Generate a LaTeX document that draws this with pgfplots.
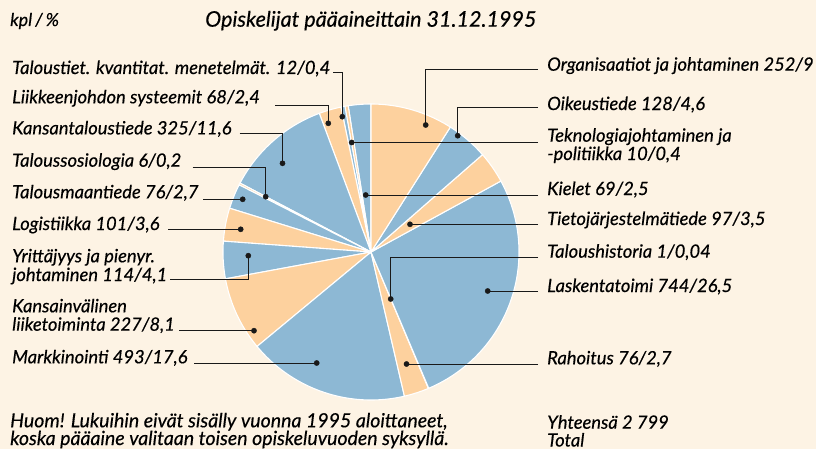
\documentclass[border=0pt]{standalone}
\usepackage{fontspec}
\setmainfont{Lato}[ItalicFeatures={FakeBold=0.4}]
\usepackage{pgfplots}
\pgfplotsset{compat=1.18}
\definecolor{bg}{RGB}{253,243,228}
\definecolor{pblue}{RGB}{141,184,212}
\definecolor{porange}{RGB}{253,209,158}
\definecolor{ldc}{RGB}{25,25,25}
\newcommand{\lab}{\fontsize{18.4}{20}\selectfont\itshape}
% slice: start count, end count (cumulative, counter-clockwise from 12 o'clock), colour; total 2799
\newcommand{\slice}[3]{\addplot[fill=#3, draw=white, line width=1.1bp, domain=90+360*#1/2799:90+360*#2/2799, samples=60] ({371+148*cos(x)},{252-148*sin(x)}) -- (371,252) -- cycle;}
\newcommand{\ldr}[2]{\addplot[ldc, line width=1bp] coordinates {#1};\addplot[ldc, only marks, mark=*, mark size=2.6bp] coordinates {#2};}
\newcommand{\txt}[2]{\node[anchor=base west, inner sep=0pt, font=\lab] at (#1) {#2};}
\begin{document}
\begin{tikzpicture}
\begin{axis}[at={(0,0)}, anchor=south west, width=816bp, height=449bp, scale only axis,
  xmin=0, xmax=816, ymin=0, ymax=449, y dir=reverse, hide axis, clip=false]
\fill[bg] (0,0) rectangle (816,449);
% counts: Kielet 69, Teknologia 10, Taloustiet 12, Liikkeenjohdon 68, Kansantalous 325,
% Taloussosiologia 6, Talousmaantiede 76, Logistiikka 101, Yrittajyys 114, Kansainvalinen 227,
% Markkinointi 493, Rahoitus 76, Taloushistoria 1, Laskentatoimi 744, Tietojarj 97,
% Oikeustiede 128, Organisaatiot 252
\slice{0}{69}{pblue}
\slice{69}{79}{porange}
\slice{79}{91}{pblue}
\slice{91}{159}{porange}
\slice{159}{484}{pblue}
\slice{484}{490}{porange}
\slice{490}{566}{pblue}
\slice{566}{667}{porange}
\slice{667}{781}{pblue}
\slice{781}{1008}{porange}
\slice{1008}{1501}{pblue}
\slice{1501}{1577}{porange}
\slice{1577}{1578}{pblue}
\slice{1578}{2322}{pblue}
\slice{2322}{2419}{porange}
\slice{2419}{2547}{pblue}
\slice{2547}{2799}{porange}
% leaders right
\ldr{(538,69.3) (425.7,69.3) (425.7,125)}{(425.7,125)}
\ldr{(538,107.7) (457.7,107.7) (457.7,135.7)}{(457.7,135.7)}
\ldr{(538,142.5) (351.7,142.5)}{(351.7,142.5)}
\ldr{(538,195) (365.7,195)}{(365.7,195)}
\ldr{(538,224.3) (410,224.3)}{(410,224.3)}
\ldr{(538,257.5) (390.7,257.5) (390.7,299)}{(390.7,299)}
\ldr{(538,291) (487.7,291)}{(487.7,291)}
\ldr{(538,364) (406.5,364)}{(406.5,364)}
% leaders left
\ldr{(333,72.7) (342.3,72.7) (342.3,116.7)}{(342.3,116.7)}
\ldr{(275,106) (328.3,106) (328.3,123.3)}{(328.3,123.3)}
\ldr{(239.5,133.5) (282.5,133.5) (282.5,163.3)}{(282.5,163.3)}
\ldr{(192.7,167.3) (265.7,167.3) (265.7,196.7)}{(265.7,196.7)}
\ldr{(203,199.3) (242.7,199.3)}{(242.7,199.3)}
\ldr{(168,229.3) (240.7,229.3)}{(240.7,229.3)}
\ldr{(170,279.5) (248.3,279.5) (248.3,255.7)}{(248.3,255.7)}
\ldr{(179,330.7) (254,330.7)}{(254,330.7)}
\ldr{(194,363) (316.7,363)}{(316.7,363)}
% texts
\node[anchor=base west, inner sep=0pt, font=\fontsize{18}{20}\selectfont\itshape] at (10,26) {kpl\,/\,\%};
\node[anchor=base west, inner sep=0pt, font=\fontsize{21.6}{24}\selectfont\itshape] at (205,26.7) {Opiskelijat pääaineittain 31.12.1995};
\txt{547,70.7}{Organisaatiot ja johtaminen 252/9}
\txt{547,110}{Oikeustiede 128/4,6}
\txt{547,141.7}{Teknologiajohtaminen ja}
\txt{547,160}{-politiikka 10/0,4}
\txt{547,195}{Kielet 69/2,5}
\txt{547,225}{Tietojärjestelmätiede 97/3,5}
\txt{547,257.7}{Taloushistoria 1/0,04}
\txt{547,292}{Laskentatoimi 744/26,5}
\txt{547,364.3}{Rahoitus 76/2,7}
\txt{547,428.7}{Yhteensä 2 799}
\txt{547,446.5}{Total}
\txt{12,74}{Taloustiet. kvantitat. menetelmät. 12/0,4}
\txt{12,103.3}{Liikkeenjohdon systeemit 68/2,4}
\txt{12,134.4}{Kansantaloustiede 325/11,6}
\txt{12,166.7}{Taloussosiologia 6/0,2}
\txt{12,198.3}{Talousmaantiede 76/2,7}
\txt{12,230}{Logistiikka 101/3,6}
\txt{12,262.3}{Yrittäjyys ja pienyr.}
\txt{12,281}{johtaminen 114/4,1}
\txt{12,312.3}{Kansainvälinen}
\txt{12,330.7}{liiketoiminta 227/8,1}
\txt{12,363.3}{Markkinointi 493/17,6}
\node[anchor=base west, inner sep=0pt, font=\fontsize{19.6}{20}\selectfont\itshape] at (10,427.3) {Huom! Lukuihin eivät sisälly vuonna 1995 aloittaneet,};
\node[anchor=base west, inner sep=0pt, font=\fontsize{19.6}{20}\selectfont\itshape] at (10,445) {koska pääaine valitaan toisen opiskeluvuoden syksyllä.};
\end{axis}
\end{tikzpicture}
\end{document}
